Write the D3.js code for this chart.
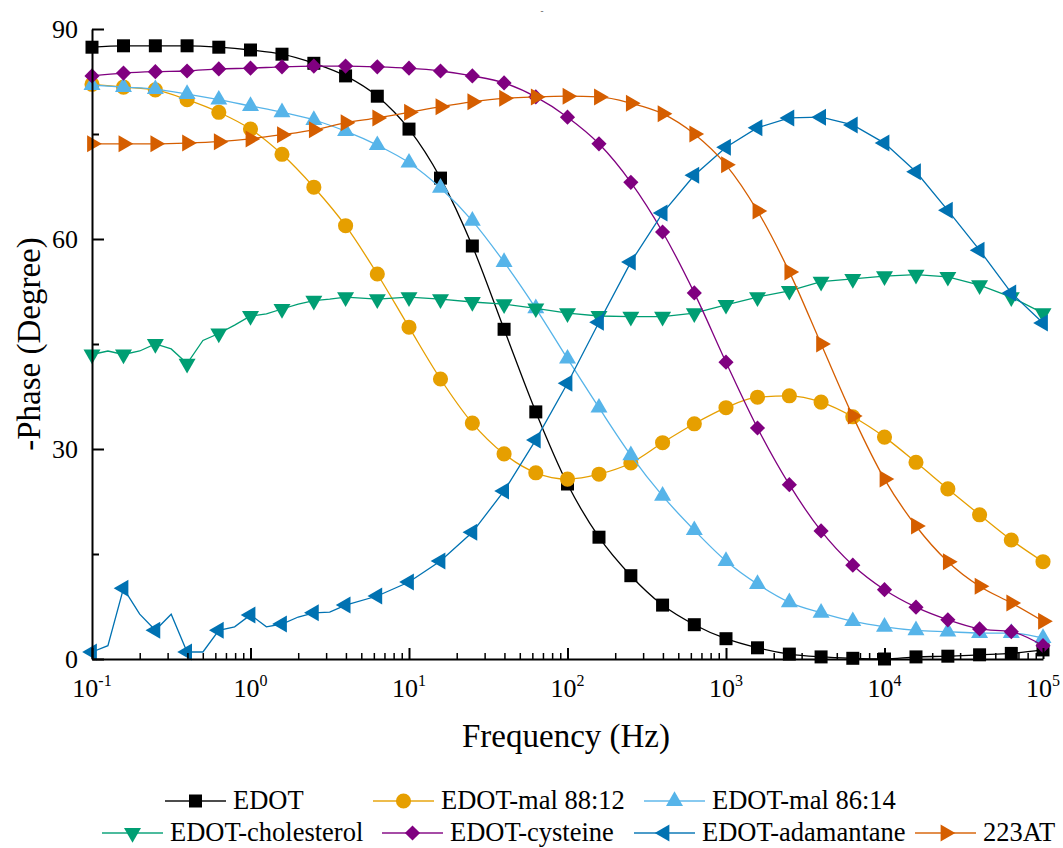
<!DOCTYPE html>
<html>
<head>
<meta charset="utf-8">
<script src="https://cdn.jsdelivr.net/npm/d3@7"></script>
<style>
  body { margin: 0; background: #fff; }
</style>
</head>
<body>
<div id="chart"></div>
<script>
// marker frequencies (Hz), 5 per decade
const freqs = [0.1, 0.158, 0.251, 0.398, 0.631, 1, 1.58, 2.51, 3.98, 6.31,
  10, 15.8, 25.1, 39.8, 63.1, 100, 158, 251, 398, 631,
  1000, 1580, 2510, 3980, 6310, 10000, 15800, 25100, 39800, 63100, 100000];
// extra line points between the first markers (noisy low-frequency part)
const midFreqs = [0.126, 0.2, 0.316, 0.501, 0.794, 1.26, 2, 3.16];

const seriesNames = ['EDOT', 'EDOT-mal 88:12', 'EDOT-mal 86:14', 'EDOT-cholesterol',
  'EDOT-cysteine', 'EDOT-adamantane', '223AT'];

const edot = [87.4, 87.6, 87.6, 87.6, 87.4, 87.0, 86.4, 85.1, 83.3, 80.4, 75.7, 68.7, 59.0, 47.1, 35.3, 25.0,
  17.4, 11.9, 7.7, 4.9, 2.9, 1.6, 0.7, 0.3, 0.1, 0.0, 0.3, 0.4, 0.6, 0.8, 1.3];
const mal8812 = [82.1, 81.7, 81.3, 79.9, 78.1, 75.7, 72.1, 67.4, 61.9, 55.0, 47.4, 40.0, 33.7, 29.3, 26.6, 25.7,
  26.4, 28.0, 30.9, 33.6, 35.9, 37.4, 37.6, 36.7, 34.6, 31.7, 28.1, 24.3, 20.6, 17.0, 13.9];
const mal8614 = [82.0, 81.7, 81.4, 80.7, 79.9, 79.0, 78.1, 77.0, 75.4, 73.4, 70.9, 67.3, 62.6, 56.7, 50.1, 42.9,
  35.9, 29.1, 23.3, 18.4, 14.0, 10.7, 8.1, 6.6, 5.4, 4.6, 4.1, 3.9, 3.7, 3.7, 3.0];
const cholesterol = [43.5, 43.5, 45.0, 42.2, 46.5, 49.0, 50.0, 51.2, 51.7, 51.4, 51.7, 51.4, 51.0, 50.7, 50.1, 49.4,
  49.0, 48.9, 48.9, 49.4, 50.6, 51.7, 52.6, 53.9, 54.3, 54.7, 54.9, 54.6, 53.4, 51.7, 49.4];
const cholesterolMid = [44.0, 44.0, 44.3, 45.5, 47.7, 49.3, 50.7, 51.4];
const cysteine = [83.3, 83.7, 83.9, 84.0, 84.3, 84.4, 84.6, 84.7, 84.7, 84.6, 84.4, 84.0, 83.3, 82.3, 80.3, 77.4,
  73.6, 68.1, 61.0, 52.3, 42.4, 33.0, 24.9, 18.3, 13.4, 9.9, 7.4, 5.6, 4.3, 3.9, 1.9];
const adamantane = [1.0, 10.1, 4.1, 1.0, 4.1, 6.3, 5.0, 6.6, 7.7, 9.0, 11.0, 14.0, 18.1, 24.0, 31.3, 39.4,
  48.1, 56.7, 63.7, 69.1, 73.1, 75.9, 77.3, 77.4, 76.3, 73.7, 69.6, 64.1, 58.4, 52.3, 48.0];
const adamantaneMid = [1.9, 6.4, 6.4, 1.0, 4.6, 4.6, 6.0, 6.7];
const at223 = [73.6, 73.6, 73.6, 73.7, 73.9, 74.3, 74.9, 75.6, 76.6, 77.3, 78.1, 78.9, 79.6, 80.1, 80.3, 80.4,
  80.3, 79.4, 77.9, 75.0, 70.6, 64.0, 55.3, 45.0, 34.7, 25.7, 19.0, 13.9, 10.4, 8.0, 5.4];

const xTicks = [0.1, 1, 10, 100, 1000, 10000, 100000];
const xTickExp = ['-1', '0', '1', '2', '3', '4', '5'];
const yTicks = [0, 30, 60, 90];
const yMinorTicks = [15, 45, 75];

const width = 1063, height = 848;
const margin = { top: 29, right: 20, bottom: 189, left: 92 };
const plotW = 951, plotH = 630;
const serif = 'Liberation Serif';

const colors = ['#000000', '#E69F00', '#56B4E9', '#009E73', '#800080', '#0072B2', '#D55E00'];
// symbol type, size, rotation
const symbols = [
  { type: d3.symbolSquare, size: 169, rot: 0 },
  { type: d3.symbolCircle, size: 180, rot: 0 },
  { type: d3.symbolTriangle, size: 125, rot: 0 },
  { type: d3.symbolTriangle, size: 125, rot: 180 },
  { type: d3.symbolSquare, size: 115, rot: 45 },
  { type: d3.symbolTriangle, size: 125, rot: -90 },
  { type: d3.symbolTriangle, size: 125, rot: 90 }
];

const values = [edot, mal8812, mal8614, cholesterol, cysteine, adamantane, at223];
const mids = [null, null, null, cholesterolMid, null, adamantaneMid, null];

const svg = d3.select('#chart').append('svg')
  .attr('width', width)
  .attr('height', height)
  .attr('font-family', serif);

const x = d3.scaleLog().domain([0.1, 100000]).range([margin.left, margin.left + plotW]);
const y = d3.scaleLinear().domain([0, 90]).range([margin.top + plotH, margin.top]);

// tiny mark left from an empty title
svg.append('text')
  .attr('x', 542).attr('y', 14)
  .attr('text-anchor', 'middle')
  .attr('font-family', serif)
  .attr('font-size', 9)
  .attr('fill', '#444')
  .text('-');

// series
const smoothLine = d3.line()
  .x(d => x(d.f))
  .y(d => y(d.v))
  .curve(d3.curveMonotoneX);
const straightLine = d3.line()
  .x(d => x(d.f))
  .y(d => y(d.v));

values.forEach((vals, i) => {
  const pts = freqs.map((f, j) => ({ f: f, v: vals[j] }));
  let linePts = pts.slice();
  if (mids[i]) {
    midFreqs.forEach((f, j) => linePts.push({ f: f, v: mids[i][j] }));
    linePts.sort((a, b) => a.f - b.f);
  }
  const g = svg.append('g').attr('class', 'series');
  g.append('path')
    .datum(linePts)
    .attr('fill', 'none')
    .attr('stroke', colors[i])
    .attr('stroke-width', 1.3)
    .attr('d', mids[i] ? straightLine : smoothLine);

  const sym = d3.symbol().type(symbols[i].type).size(symbols[i].size);
  g.selectAll('path.marker')
    .data(pts)
    .enter().append('path')
    .attr('class', 'marker')
    .attr('d', sym)
    .attr('fill', colors[i])
    .attr('transform', d => `translate(${x(d.f)},${y(d.v)}) rotate(${symbols[i].rot})`);
});

// x axis
const minorX = [];
for (let e = -1; e < 5; e++) {
  for (let m = 2; m <= 9; m++) minorX.push(m * Math.pow(10, e));
}
svg.append('g')
  .attr('transform', `translate(0,${margin.top + plotH})`)
  .call(d3.axisBottom(x).tickValues(minorX).tickSize(-6).tickFormat(() => ''))
  .call(g => g.select('.domain').remove())
  .selectAll('.tick line').attr('stroke', '#000').attr('stroke-width', 1.5);

const xAxisG = svg.append('g')
  .attr('transform', `translate(0,${margin.top + plotH})`)
  .call(d3.axisBottom(x).tickValues(xTicks).tickSizeInner(-11).tickSizeOuter(0).tickFormat(() => ''));
xAxisG.select('.domain').attr('stroke', '#000').attr('stroke-width', 2);
xAxisG.selectAll('.tick line').attr('stroke', '#000').attr('stroke-width', 2);

const xLab = svg.append('g').selectAll('text')
  .data(xTicks)
  .enter().append('text')
  .attr('x', d => x(d))
  .attr('y', margin.top + plotH + 38)
  .attr('text-anchor', 'middle')
  .attr('font-family', serif)
  .attr('font-size', 26);
xLab.append('tspan').text('10');
xLab.append('tspan')
  .attr('dy', -11)
  .attr('font-size', 16)
  .text((d, i) => xTickExp[i]);

// y axis
svg.append('g')
  .attr('transform', `translate(${margin.left},0)`)
  .call(d3.axisLeft(y).tickValues(yMinorTicks).tickSize(-7).tickFormat(() => ''))
  .call(g => g.select('.domain').remove())
  .selectAll('.tick line').attr('stroke', '#000').attr('stroke-width', 2);

const yAxisG = svg.append('g')
  .attr('transform', `translate(${margin.left},0)`)
  .call(d3.axisLeft(y).tickValues(yTicks).tickSizeInner(-12).tickSizeOuter(0).tickPadding(14));
yAxisG.attr('font-family', serif).attr('font-size', 26);
yAxisG.select('.domain').attr('stroke', '#000').attr('stroke-width', 2);
yAxisG.selectAll('.tick line').attr('stroke', '#000').attr('stroke-width', 2);
yAxisG.selectAll('.tick text')
  .attr('x', -14)
  .attr('font-family', serif)
  .attr('font-size', 26)
  .attr('fill', '#000');

// axis titles
svg.append('text')
  .attr('x', 566)
  .attr('y', 747)
  .attr('text-anchor', 'middle')
  .attr('font-family', serif)
  .attr('font-size', 33)
  .text('Frequency (Hz)');

svg.append('text')
  .attr('transform', `translate(40,${margin.top + plotH / 2}) rotate(-90)`)
  .attr('text-anchor', 'middle')
  .attr('font-family', serif)
  .attr('font-size', 33)
  .text('-Phase (Degree)');

// legend
const legendLayout = [
  { x: 165, y: 801 }, { x: 373, y: 801 }, { x: 644, y: 801 },
  { x: 102, y: 833 }, { x: 382, y: 833 }, { x: 634, y: 833 }, { x: 915, y: 833 }
];
const legend = svg.append('g').selectAll('g')
  .data(seriesNames)
  .enter().append('g')
  .attr('transform', (d, i) => `translate(${legendLayout[i].x},${legendLayout[i].y})`);

legend.append('line')
  .attr('x1', 0).attr('x2', 61)
  .attr('y1', 0).attr('y2', 0)
  .attr('stroke', (d, i) => colors[i])
  .attr('stroke-opacity', 0.7)
  .attr('stroke-width', 2);

legend.append('path')
  .attr('d', (d, i) => d3.symbol().type(symbols[i].type).size(symbols[i].size)())
  .attr('fill', (d, i) => colors[i])
  .attr('transform', (d, i) => `translate(30.5,0) rotate(${symbols[i].rot})`);

legend.append('text')
  .attr('x', 68)
  .attr('y', 8)
  .attr('font-family', serif)
  .attr('font-size', 26.5)
  .text(d => d);
</script>
</body>
</html>
